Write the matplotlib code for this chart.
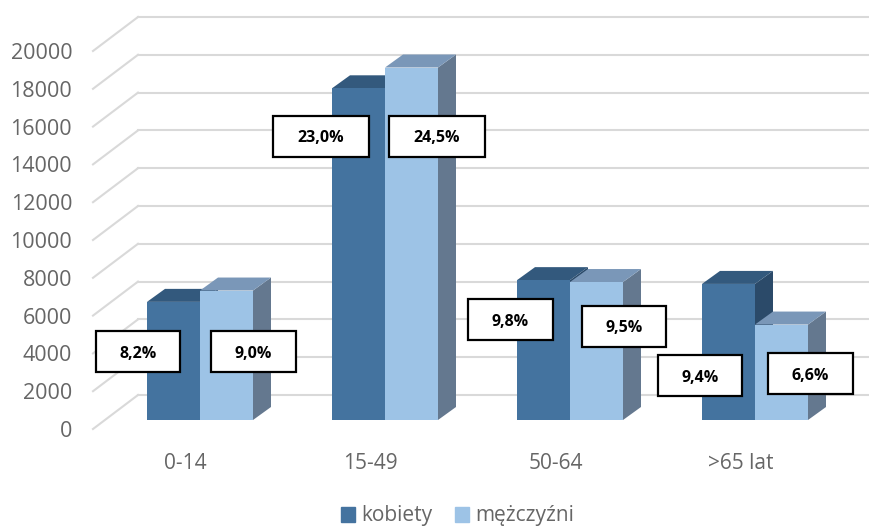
import matplotlib
matplotlib.use("Agg")
import matplotlib.pyplot as plt
from matplotlib.patches import Polygon, Rectangle

# --------------------------------------------------
# DATA
# --------------------------------------------------
categories = ["0-14", "15-49", "50-64", ">65 lat"]
kobiety = [6250, 17550, 7400, 7200]
mezczyzni = [6850, 18650, 7300, 5050]
kobiety_pct = ["8,2%", "23,0%", "9,8%", "9,4%"]
mezczyzni_pct = ["9,0%", "24,5%", "9,5%", "6,6%"]
y_ticks = list(range(0, 20001, 2000))

# --------------------------------------------------
# LAYOUT (pixels, image origin top left)
# --------------------------------------------------
W, H = 870, 528
LEFT, RIGHT = 93, 833
Y_ZERO, Y_TOP = 429, 51

PX_X = 1 / ((RIGHT - LEFT) / 4)      # category units per pixel
PX_Y = 20000 / (Y_ZERO - Y_TOP)      # value units per pixel

# label boxes: x0, x1, y0, y1
kobiety_boxes = [(96, 180, 331, 372), (273, 369, 116, 157), (468, 553, 299, 340), (658, 742, 355, 396)]
mezczyzni_boxes = [(211, 296, 331, 372), (389, 485, 116, 157), (582, 666, 306, 347), (768, 853, 353, 394)]

DARK = ("#44739F", "#33597D", "#2B4A69")    # front, top, side
LIGHT = ("#9DC3E6", "#7A97B8", "#64788F")
GRID = "#D9D9D9"
TEXT = "#666666"

plt.rcParams["font.family"] = ["Open Sans", "DejaVu Sans"]

fig = plt.figure(figsize=(W / 100, H / 100), dpi=100)
ax = fig.add_axes([LEFT / W, 1 - Y_ZERO / H, (RIGHT - LEFT) / W, (Y_ZERO - Y_TOP) / H])
ax.set_xlim(-0.5, 3.5)
ax.set_ylim(0, 20000)
ax.patch.set_visible(False)
for s in ax.spines.values():
    s.set_visible(False)

ax.set_yticks(y_ticks)
ax.set_xticks(range(len(categories)))
ax.set_xticklabels(categories)
ax.tick_params(axis="both", length=0, labelsize=15, labelcolor=TEXT)
ax.tick_params(axis="y", pad=15, labelsize=15.5)
ax.tick_params(axis="x", pad=17)

# --------------------------------------------------
# WALLS
# --------------------------------------------------
wall_dx = 45 * PX_X
wall_dy = 34 * PX_Y
for t in y_ticks:
    ax.plot([-0.5, -0.5 + wall_dx], [t, t + wall_dy], color=GRID, lw=1.5, clip_on=False, zorder=1)
    ax.plot([-0.5 + wall_dx, 3.5 + wall_dx], [t + wall_dy, t + wall_dy], color=GRID, lw=1.5, clip_on=False, zorder=1)

# --------------------------------------------------
# 3D BARS
# --------------------------------------------------
shift_x = 14.5 * PX_X     # bar front plane sits inside the floor
shift_y = 9 * PX_Y
bar_w = 53 * PX_X
depth_x = 18 * PX_X
depth_y = 13 * PX_Y


def draw_bar(x0, value, colors, z):
    x0 = x0 + shift_x
    x1 = x0 + bar_w
    y0 = shift_y
    y1 = shift_y + value
    front = [(x0, y0), (x1, y0), (x1, y1), (x0, y1)]
    top = [(x0, y1), (x1, y1), (x1 + depth_x, y1 + depth_y), (x0 + depth_x, y1 + depth_y)]
    side = [(x1, y0), (x1 + depth_x, y0 + depth_y), (x1 + depth_x, y1 + depth_y), (x1, y1)]
    for pts, c in [(side, colors[2]), (top, colors[1]), (front, colors[0])]:
        ax.add_patch(Polygon(pts, closed=True, facecolor=c, edgecolor="none", clip_on=False, zorder=z))


for i in range(len(categories)):
    draw_bar(i - bar_w, kobiety[i], DARK, 3)
    draw_bar(i, mezczyzni[i], LIGHT, 4)


# --------------------------------------------------
# LABEL BOXES
# --------------------------------------------------
def draw_label(box, label):
    x0, x1, y0, y1 = box
    fig.add_artist(Rectangle((x0 / W, 1 - y1 / H), (x1 - x0) / W, (y1 - y0) / H, transform=fig.transFigure,
                             facecolor="white", edgecolor="black", lw=1.6, zorder=10))
    fig.text((x0 + x1) / 2 / W, 1 - (y0 + y1 + 4) / 2 / H, label, ha="center", va="center",
             fontsize=11.5, fontweight="bold", color="black", zorder=11)


for box, label in zip(kobiety_boxes, kobiety_pct):
    draw_label(box, label)
for box, label in zip(mezczyzni_boxes, mezczyzni_pct):
    draw_label(box, label)

# --------------------------------------------------
# LEGEND
# --------------------------------------------------
handles = [Rectangle((0, 0), 1, 1, color=DARK[0]), Rectangle((0, 0), 1, 1, color=LIGHT[0])]
fig.legend(handles, ["kobiety", "mężczyźni"], loc="center", bbox_to_anchor=(0.526, 1 - 516 / H), ncol=2,
           frameon=False, fontsize=15, labelcolor=TEXT, handlelength=0.7, handleheight=0.7,
           handletextpad=0.3, columnspacing=1.05, borderpad=0.2)

fig.savefig("out.png", dpi=100)
